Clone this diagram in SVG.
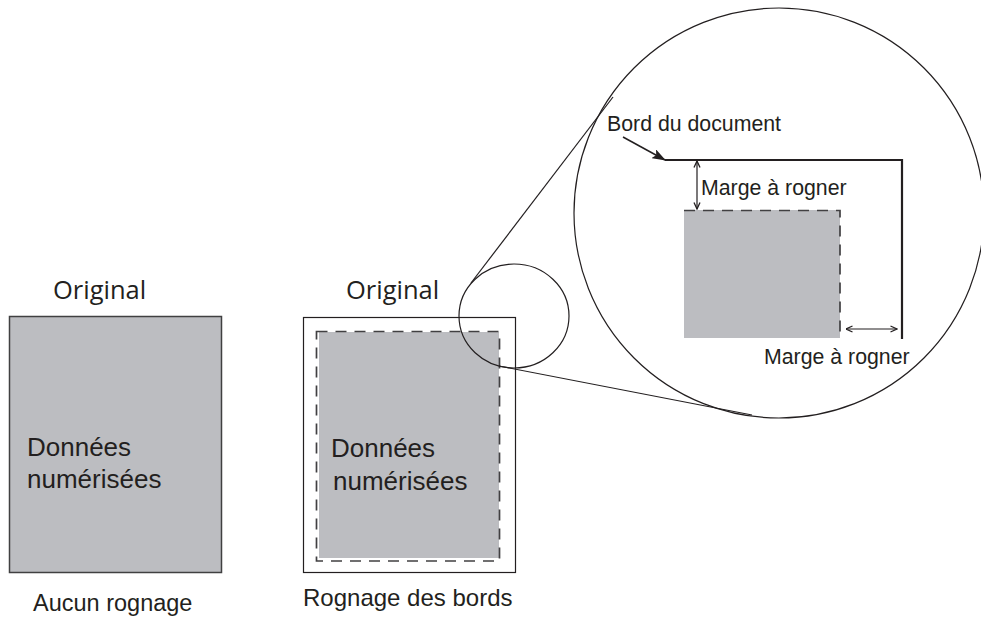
<svg xmlns="http://www.w3.org/2000/svg" width="981" height="621" viewBox="0 0 981 621">
<defs>
<style>
.t{font-family:"Liberation Sans",Arial,sans-serif;fill:#231f20}
.o{font-family:"Open Sans","Noto Sans",sans-serif;fill:#231f20;font-size:25.5px}
.thin{fill:none;stroke:#231f20;stroke-width:1.2}
.dash{fill:none;stroke:#414042;stroke-width:1.7;stroke-dasharray:11 8}
.gray{fill:#bcbdc1}
</style>
<marker id="open" viewBox="0 0 8 8" refX="7.5" refY="4" markerWidth="8" markerHeight="8" markerUnits="userSpaceOnUse" orient="auto-start-reverse">
<path d="M1,1 L7.5,4 L1,7" fill="none" stroke="#231f20" stroke-width="1.3"/>
</marker>
<marker id="solid" viewBox="0 0 14 10" refX="13" refY="5" markerWidth="14" markerHeight="10" markerUnits="userSpaceOnUse" orient="auto">
<path d="M0,0 L14,5 L0,10 L3,5 Z" fill="#231f20"/>
</marker>
</defs>
<rect width="981" height="621" fill="#ffffff"/>

<g id="left">
<text class="o" x="53" y="299">Original</text>
<rect x="9.5" y="316.5" width="212" height="256" class="gray" stroke="#404041" stroke-width="1.5"/>
<text class="t" font-size="26" x="27" y="456">Données</text>
<text class="t" font-size="26" x="27" y="488">numérisées</text>
<text class="t" font-size="23.5" x="33" y="611">Aucun rognage</text>
</g>

<g id="middle">
<text class="o" x="346" y="299">Original</text>
<rect x="303.5" y="317.5" width="212" height="255" fill="#ffffff" stroke="#231f20" stroke-width="1.2"/>
<rect x="319" y="332" width="180" height="226" class="gray"/>
<rect x="316.5" y="331.5" width="183" height="229.5" class="dash"/>
<text class="t" font-size="26" x="331" y="457">Données</text>
<text class="t" font-size="26" x="333" y="490">numérisées</text>
<text class="t" font-size="24" x="303" y="606">Rognage des bords</text>
</g>

<g id="small-circle">
<ellipse cx="514" cy="316" rx="55" ry="52" class="thin"/>
</g>

<g id="connectors">
<line x1="471" y1="283" x2="613" y2="97" class="thin"/>
<line x1="499" y1="366" x2="752" y2="415" class="thin"/>
</g>

<g id="magnifier">
<circle cx="779" cy="213" r="205" class="thin"/>
<rect x="684" y="210" width="156" height="128" class="gray"/>
<path d="M684,210.5 H840 V338" class="dash"/>
<path d="M665,160 H902 V339" fill="none" stroke="#231f20" stroke-width="2.2"/>
<line x1="623" y1="137" x2="665" y2="160" stroke="#231f20" stroke-width="1.5" marker-end="url(#solid)"/>
<text class="t" font-size="21.3" x="607" y="131">Bord du document</text>
<line x1="697" y1="161" x2="697" y2="209" stroke="#231f20" stroke-width="1.2" marker-start="url(#open)" marker-end="url(#open)"/>
<text class="t" font-size="21.3" x="701" y="195">Marge à rogner</text>
<line x1="846" y1="329" x2="897" y2="329" stroke="#231f20" stroke-width="1.2" marker-start="url(#open)" marker-end="url(#open)"/>
<text class="t" font-size="21.3" x="764" y="364">Marge à rogner</text>
</g>
</svg>
